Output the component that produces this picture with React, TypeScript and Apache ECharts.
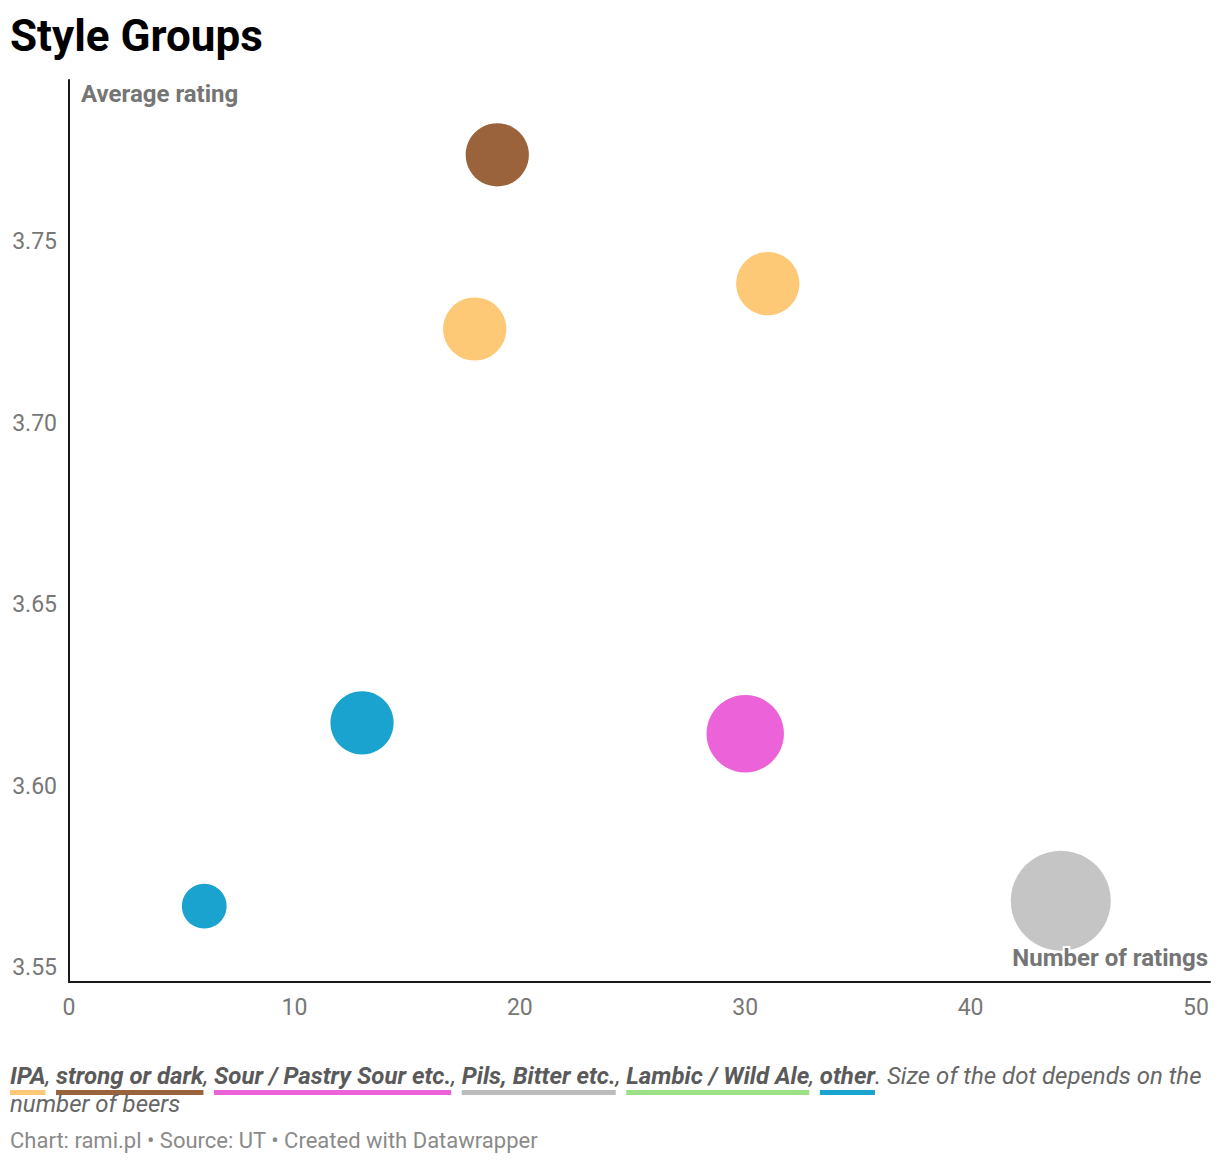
import { useEffect, useRef } from "react"
import * as echarts from "echarts"

// style groups (legend order) and their colours
const groupNames = ["IPA", "strong or dark", "Sour / Pastry Sour etc.", "Pils, Bitter etc.", "Lambic / Wild Ale", "other"]
const groupColors = ["#fec977", "#9b633c", "#ec62d9", "#bcbcbc", "#9ce186", "#1aa3ce"]
const bubbleColors = ["#fec977", "#9b633c", "#ec62d9", "#c5c5c5", "#9ce186", "#1aa3ce"]

// one entry per dot
const pointGroup = ["strong or dark", "IPA", "IPA", "other", "Sour / Pastry Sour etc.", "other", "Pils, Bitter etc."]
const numberOfRatings = [19, 18, 31, 13, 30, 6, 44]
const averageRating = [3.774, 3.726, 3.7385, 3.6175, 3.6145, 3.567, 3.5685]
const numberOfBeers = [4, 4, 4, 4, 6, 2, 10]

const xTicks = [0, 10, 20, 30, 40, 50]
const yTicks = [3.55, 3.6, 3.65, 3.7, 3.75]

const FONT = "Roboto, 'Noto Sans', sans-serif"

function measure(text: string, font: string) {
  const c = document.createElement("canvas").getContext("2d")!
  c.font = font
  return c.measureText(text).width
}

function buildLegend() {
  const size = 24
  const boldFont = `italic bold ${size}px Roboto`
  const normFont = `italic ${size}px Roboto`
  const els: any[] = []
  let x = 10
  const y1 = 1076
  groupNames.forEach((name, i) => {
    const w = measure(name, boldFont)
    els.push({
      type: "text", x, y: y1, z: 10,
      style: { text: name, fill: "#5a5a5a", font: `italic bold ${size}px ${FONT}`, verticalAlign: "middle", align: "left" }
    })
    els.push({ type: "rect", shape: { x, y: 1090, width: w, height: 5 }, style: { fill: groupColors[i] } })
    x += w
    const sep = i < groupNames.length - 1 ? ", " : ". "
    els.push({
      type: "text", x, y: y1,
      style: { text: sep, fill: "#5a5a5a", font: `italic ${size}px ${FONT}`, verticalAlign: "middle", align: "left" }
    })
    x += measure(sep, normFont)
  })
  els.push({
    type: "text", x, y: y1,
    style: { text: "Size of the dot depends on the", fill: "#666666", font: `italic ${size}px ${FONT}`, verticalAlign: "middle", align: "left" }
  })
  els.push({
    type: "text", x: 10, y: 1104,
    style: { text: "number of beers", fill: "#666666", font: `italic ${size}px ${FONT}`, verticalAlign: "middle", align: "left" }
  })
  return els
}

export default function App() {
  const chartRef = useRef<HTMLDivElement>(null)

  useEffect(() => {
    if (!chartRef.current) return
    const chart = echarts.init(chartRef.current, null, { renderer: "svg" })

    const data = numberOfRatings.map((n, i) => ({
      value: [n, averageRating[i], numberOfBeers[i]],
      itemStyle: { color: bubbleColors[groupNames.indexOf(pointGroup[i])] }
    }))

    const option = {
      animation: false,
      textStyle: { fontFamily: FONT },
      grid: { left: 69, right: 10, top: 80, bottom: 182, containLabel: false },
      xAxis: {
        type: "value",
        min: 0,
        max: 50.62,
        axisLine: { show: true, lineStyle: { color: "#1a1a1a", width: 2 } },
        axisTick: { show: false },
        splitLine: { show: false },
        axisLabel: { customValues: xTicks, color: "#777777", fontSize: 23, margin: 14, fontFamily: FONT }
      },
      yAxis: {
        type: "value",
        min: 3.5461,
        max: 3.7946,
        axisLine: { show: true, lineStyle: { color: "#1a1a1a", width: 2 } },
        axisTick: { show: false },
        splitLine: { show: false },
        axisLabel: {
          customValues: yTicks,
          color: "#777777",
          fontSize: 23,
          margin: 12,
          fontFamily: FONT,
          formatter: (v: number) => v.toFixed(2)
        }
      },
      series: [
        {
          type: "scatter",
          data,
          symbol: "circle",
          symbolSize: (v: number[]) => 100 * Math.sqrt(v[2] / 10),
          itemStyle: { opacity: 1 },
          emphasis: { disabled: true }
        }
      ],
      graphic: [
        {
          type: "text", x: 10, y: 36,
          style: { text: "Style Groups", fill: "#000000", font: `bold 44px ${FONT}`, verticalAlign: "middle" }
        },
        {
          type: "text", x: 81, y: 94, z: 10,
          style: { text: "Average rating", fill: "#757575", font: `bold 24px ${FONT}`, verticalAlign: "middle" }
        },
        {
          type: "text", x: 1208, y: 958, z: 10,
          style: {
            text: "Number of ratings", fill: "#757575", font: `bold 24px ${FONT}`,
            align: "right", verticalAlign: "middle", stroke: "#ffffff", lineWidth: 4
          }
        },
        ...buildLegend(),
        {
          type: "text", x: 10, y: 1140,
          style: { text: "Chart: rami.pl • Source: UT • Created with Datawrapper", fill: "#8a8a8a", font: `22px ${FONT}`, verticalAlign: "middle" }
        }
      ]
    }

    chart.setOption(option)
    return () => chart.dispose()
  }, [])

  return (
    <div
      ref={chartRef}
      style={{ position: "absolute", left: 0, top: 0, width: 1220, height: 1164, background: "#ffffff" }}
    />
  )
}
